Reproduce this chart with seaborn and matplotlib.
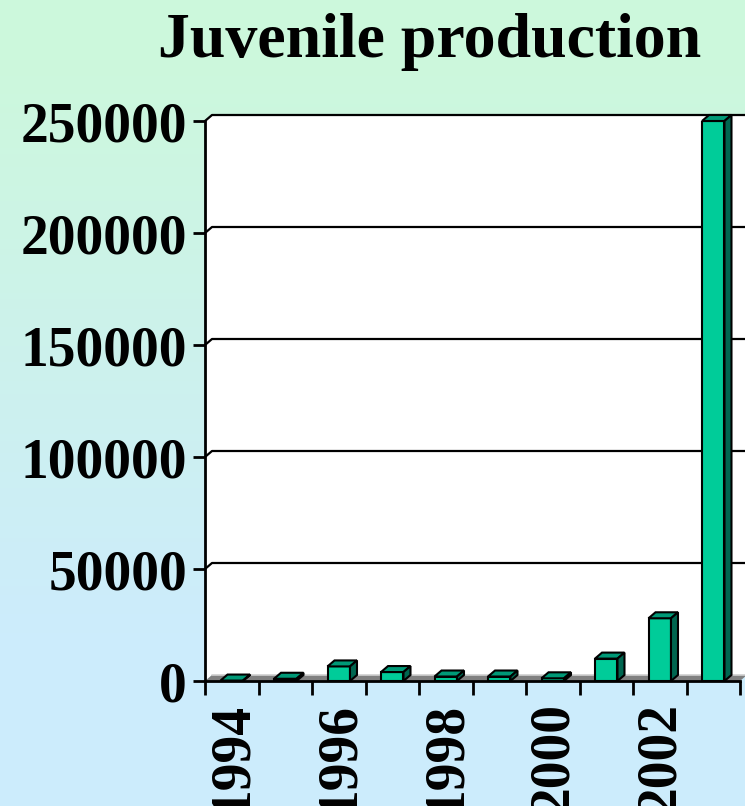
import numpy as np
import pandas as pd
import matplotlib
matplotlib.use("Agg")
import matplotlib.pyplot as plt
from matplotlib.patches import Polygon, Rectangle
from matplotlib.colors import to_rgb
import seaborn as sns

years = ["1994", "1995", "1996", "1997", "1998", "1999", "2000", "2001", "2002", "2003"]
production = [200, 1000, 6500, 4000, 2000, 2000, 1200, 10000, 28000, 250000]
shown_year_labels = ["1994", "1996", "1998", "2000", "2002"]
y_ticks = [0, 50000, 100000, 150000, 200000, 250000]
title = "Juvenile production"

sns.set_style("ticks")
plt.rcParams["font.family"] = ["Liberation Serif", "DejaVu Serif"]
plt.rcParams["font.weight"] = "bold"
plt.rcParams["text.color"] = "black"
plt.rcParams["xtick.color"] = "black"
plt.rcParams["ytick.color"] = "black"
plt.rcParams["xtick.labelcolor"] = "black"
plt.rcParams["ytick.labelcolor"] = "black"

W, H = 745, 806
fig = plt.figure(figsize=(W / 100, H / 100), dpi=100)

# gradient background
bg = fig.add_axes([0, 0, 1, 1], zorder=-10)
top_c = np.array(to_rgb("#CCF8DC"))
bot_c = np.array(to_rgb("#CCECFC"))
t = np.linspace(0, 1, 256)[:, None]
t = np.clip(t * 1.4 - 0.1, 0, 1)
grad = top_c[None, :] * (1 - t) + bot_c[None, :] * t
bg.imshow(grad[:, None, :], aspect="auto", extent=[0, 1, 0, 1])
bg.set_axis_off()

# main axes (front plane)
left, right, top, bottom = 205, 740, 121, 681
ax = fig.add_axes([left / W, 1 - bottom / H, (right - left) / W, (bottom - top) / H])
ax.set_facecolor("none")

df = pd.DataFrame({"year": years, "value": production})
sns.barplot(data=df, x="year", y="value", order=years, color="#00CC99",
            edgecolor="black", linewidth=1.5, width=0.42, saturation=1,
            ax=ax, zorder=4)

ymax = 250000
ax.set_xlim(-0.5, len(years) - 0.5)
ax.set_ylim(0, ymax)

# depth offsets (pixels -> data)
dpx, dpy = 7, 6
dx = dpx / ((right - left) / len(years))
dy = dpy * ymax / (bottom - top)
x0, x1 = -0.5, len(years) - 0.5

# back wall and side wall
ax.add_patch(Rectangle((x0 + dx, dy), x1 - x0, ymax, facecolor="white",
                       edgecolor="none", zorder=0, clip_on=False))
ax.add_patch(Polygon([(x0, 0), (x0 + dx, dy), (x0 + dx, ymax + dy), (x0, ymax)],
                     closed=True, facecolor="white", edgecolor="none", zorder=0, clip_on=False))
ax.plot([x0, x0 + dx, x1 + dx], [ymax, ymax + dy, ymax + dy], color="#C8C8C8", lw=1.5,
        zorder=1, clip_on=False)
# floor
ax.add_patch(Polygon([(x0, 0), (x1, 0), (x1 + dx, dy), (x0 + dx, dy)], closed=True,
                     facecolor="#808080", edgecolor="none", zorder=1, clip_on=False))
ax.plot([x0 + dx, x1 + dx], [dy, dy], color="#D0D0D0", lw=1.2, zorder=1.5, clip_on=False)

# gridlines on back wall
for yv in y_ticks[1:]:
    ax.plot([x0, x0 + dx, x1 + dx], [yv, yv + dy, yv + dy], color="black", lw=1.6,
            zorder=2, clip_on=False)

# 3D faces of bars
for p in list(ax.patches):
    if not isinstance(p, Rectangle) or p.get_facecolor()[:3] != to_rgb("#00CC99"):
        continue
    bx0 = p.get_x()
    bx1 = bx0 + p.get_width()
    h = p.get_height()
    ax.add_patch(Polygon([(bx0, h), (bx0 + dx, h + dy), (bx1 + dx, h + dy), (bx1, h)],
                         closed=True, facecolor="#009977", edgecolor="black", lw=1.5,
                         zorder=4, clip_on=False))
    ax.add_patch(Polygon([(bx1, 0), (bx1, h), (bx1 + dx, h + dy), (bx1 + dx, dy)],
                         closed=True, facecolor="#006650", edgecolor="black", lw=1.5,
                         zorder=4, clip_on=False))

# spines
for s in ["top", "right"]:
    ax.spines[s].set_visible(False)
for s in ["left", "bottom"]:
    ax.spines[s].set_linewidth(2)
    ax.spines[s].set_color("black")
    ax.spines[s].set_zorder(5)

# ticks
ax.set_yticks(y_ticks)
ax.set_yticklabels([str(v) for v in y_ticks], fontsize=40, fontweight="bold", color="black")
ax.tick_params(axis="y", length=9, width=2, pad=4, color="black")

pos = [years.index(y) for y in shown_year_labels]
ax.set_xticks(pos)
ax.set_xticklabels(shown_year_labels, rotation=90, fontsize=40, fontweight="bold", color="black")
ax.tick_params(axis="x", which="major", length=0, pad=15)
ax.set_xticks(np.arange(-0.5, len(years), 1.0), minor=True)
ax.tick_params(axis="x", which="minor", length=10, width=2, color="black")
for lab in ax.get_xticklabels():
    lab.set_va("top")
    lab.set_ha("center")

ax.set_xlabel("")
ax.set_ylabel("")

fig.text(430 / W, 1 - 57 / H, title, ha="center", va="baseline",
         fontsize=46, fontweight="bold", color="black")

fig.savefig("out.png", dpi=100)
